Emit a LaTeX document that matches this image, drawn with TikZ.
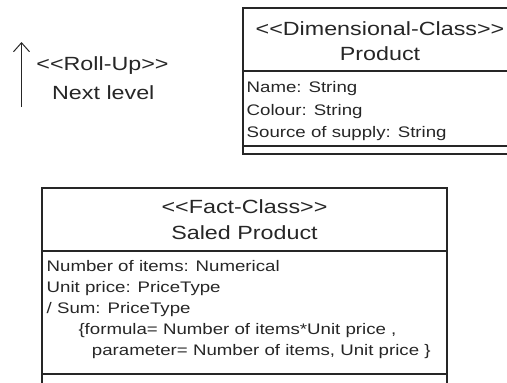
\documentclass[tikz,border=0pt]{standalone}
\usepackage{fontspec}
\setmainfont[FakeStretch=1.22]{Liberation Sans}
\usetikzlibrary{arrows.meta}
\newcommand{\ltlt}{{<}{<}}
\newcommand{\gtgt}{{>}{>}}
\begin{document}
\begin{tikzpicture}[x=1pt,y=-1pt,
  box/.style={draw=black!85, line width=1.1pt},
  ttl/.style={anchor=base, inner sep=0pt, text=black!85, font=\fontsize{19.1}{22}\selectfont},
  attr/.style={anchor=base west, inner sep=0pt, text=black!85, font=\fontsize{15.3}{18}\selectfont},
  rollarrow/.style={draw=black!85, line width=1pt, -{Straight Barb[length=9pt,width=16pt]}},
]
\useasboundingbox (0,0) rectangle (507,383);
\clip (0,0) rectangle (507,383);

% Roll-up annotation
\coordinate (rb) at (21.5,107);
\coordinate (rt) at (21.5,42);
\draw[rollarrow] (rb) -- (rt);
\node[ttl] (ru1) at (102.5,70.7) {\ltlt Roll-Up\gtgt};
\node[ttl] (ru2) at (103.3,99.3) {Next level};

% Product (dimensional class)
\draw[box] (525,154) -- (243,154) -- (243,8) -- (525,8);
\draw[box] (243,71) -- (525,71);
\draw[box] (243,146) -- (525,146);
\node[ttl] (p1) at (380,35) {\ltlt Dimensional-Class\gtgt};
\node[ttl] (p2) at (380,60.7) {Product};
\node[attr] (pa1) at (246.5,92.5) {Name: String};
\node[attr] (pa2) at (246.5,115) {Colour: String};
\node[attr] (pa3) at (246.5,137.5) {Source of supply: String};

% Saled Product (fact class)
\draw[box] (42,390) -- (42,188) -- (447,188) -- (447,390);
\draw[box] (42,251) -- (447,251);
\draw[box] (42,374) -- (447,374);
\node[ttl] (f1) at (244.5,213) {\ltlt Fact-Class\gtgt};
\node[ttl] (f2) at (244.5,239) {Saled Product};
\node[attr] (fa1) at (46.5,271.7) {Number of items: Numerical};
\node[attr] (fa2) at (46.5,292.5) {Unit price: PriceType};
\node[attr] (fa3) at (46.5,313.3) {/ Sum: PriceType};
\node[attr] (fa4) at (78.3,334.1) {\{formula= Number of items*Unit price ,};
\node[attr] (fa5) at (91.7,355) {parameter= Number of items, Unit price \}};
\end{tikzpicture}
\end{document}
